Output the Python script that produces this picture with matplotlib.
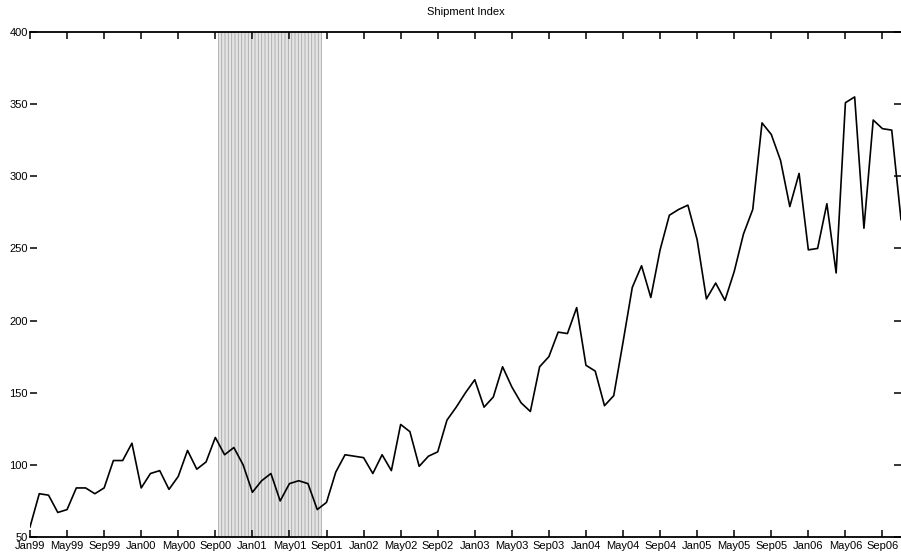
import matplotlib
matplotlib.use('Agg')
import matplotlib.pyplot as plt

# Índice mensual, enero 1999 a noviembre 2006
valores = [
    57, 80, 79, 67, 69, 84, 84, 80, 84, 103, 103, 115,
    84, 94, 96, 83, 92, 110, 97, 102, 119, 107, 112, 100,
    81, 89, 94, 75, 87, 89, 87, 69, 74, 95, 107, 106,
    105, 94, 107, 96, 128, 123, 99, 106, 109, 131, 140, 150,
    159, 140, 147, 168, 154, 143, 137, 168, 175, 192, 191, 209,
    169, 165, 141, 148, 185, 223, 238, 216, 249, 273, 277, 280,
    256, 215, 226, 214, 234, 260, 277, 337, 329, 311, 279, 302,
    249, 250, 281, 233, 351, 355, 264, 339, 333, 332, 270,
]
etiquetas_x = [
    'Jan99', 'May99', 'Sep99', 'Jan00', 'May00', 'Sep00', 'Jan01', 'May01',
    'Sep01', 'Jan02', 'May02', 'Sep02', 'Jan03', 'May03', 'Sep03', 'Jan04',
    'May04', 'Sep04', 'Jan05', 'May05', 'Sep05', 'Jan06', 'May06', 'Sep06',
]
ticks_y = [50, 100, 150, 200, 250, 300, 350, 400]
banda = (20.3, 31.5)  # periodo sombreado, en meses desde Jan99

plt.rcParams['font.family'] = ['Liberation Sans', 'DejaVu Sans']
plt.rcParams['hatch.linewidth'] = 0.6

fig = plt.figure(figsize=(9.01, 5.58), dpi=100)
ax = fig.add_axes([30 / 901, 1 - 537 / 558, 1 - 30 / 901, 505 / 558])

meses = list(range(len(valores)))
ax.axvspan(banda[0], banda[1], facecolor='#e4e4e4', edgecolor='#a8a8a8',
           hatch='|||||', linewidth=0, zorder=1)
ax.plot(meses, valores, color='black', linewidth=1.2, zorder=3)

ax.set_xlim(0, 94)
ax.set_ylim(50, 400)
ax.set_xticks(range(0, 4 * len(etiquetas_x), 4))
ax.set_xticklabels(etiquetas_x, fontsize=8)
ax.set_yticks(ticks_y)
ax.set_yticklabels([str(v) for v in ticks_y], fontsize=8)

ax.spines['left'].set_visible(False)
ax.spines['right'].set_visible(False)
ax.spines['top'].set_linewidth(1.3)
ax.spines['bottom'].set_linewidth(1.3)
ax.tick_params(axis='x', direction='in', length=5, width=1.1, top=True, pad=3)
ax.tick_params(axis='y', direction='in', length=5, width=1.1, right=True, pad=1.5)

ax.set_title('Shipment Index', fontsize=8, pad=12)

fig.savefig('out.png', dpi=100)
